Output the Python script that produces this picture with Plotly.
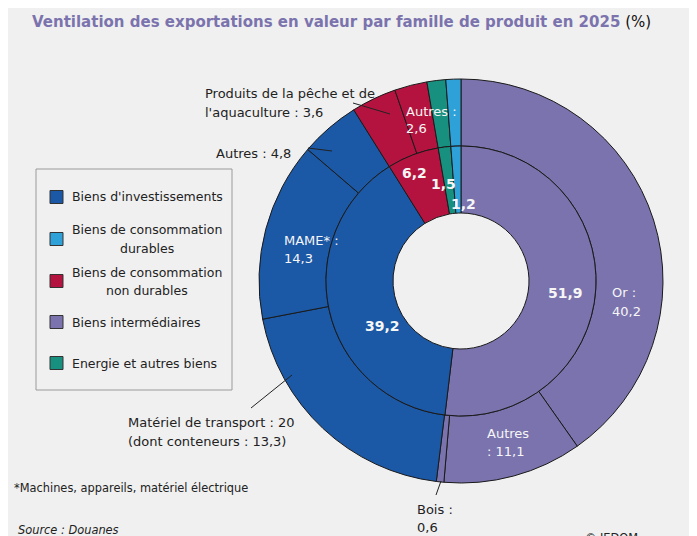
import plotly.graph_objects as go

# ---------------- data ----------------
families = ["Biens d'investissements", "Biens de consommation durables",
            "Biens de consommation non durables", "Biens intermédiaires",
            "Energie et autres biens"]
family_colors = ["#1b58a5", "#2ea1d9", "#b5133f", "#7b73ad", "#18907f"]

inner_labels = ["Biens intermédiaires", "Biens d'investissements",
                "Biens de consommation non durables", "Energie et autres biens",
                "Biens de consommation durables"]
inner_values = [51.9, 39.2, 6.2, 1.5, 1.2]

outer_names = ["Or", "Autres", "Bois", "Matériel de transport", "MAME*", "Autres",
               "Produits de la pêche et de l'aquaculture", "Autres",
               "Energie et autres biens", "Biens de consommation durables"]
outer_parents = ["Biens intermédiaires"] * 3 + ["Biens d'investissements"] * 3 + \
                ["Biens de consommation non durables"] * 2 + \
                ["Energie et autres biens", "Biens de consommation durables"]
outer_values = [40.2, 11.1, 0.6, 20, 14.3, 4.8, 3.6, 2.6, 1.5, 1.2]
conteneurs = 13.3

OFF = 8  # page body margin
W, H = 697 - OFF, 536 - OFF
BG = "#f0f0f0"
FONT = "DejaVu Sans"


def fr(v):
    return f"{v:g}".replace(".", ",")


def px(x):
    return (x - OFF) / W


def py(y):
    return 1 - (y - OFF) / H


color_of = dict(zip(families, family_colors))

fig = go.Figure()

# outer ring
cx, cy, R_out, R_in, R_hole = 461, 281, 202, 135, 68
fig.add_trace(go.Pie(
    labels=[f"{p} – {n}" if p != n else n for p, n in zip(outer_parents, outer_names)],
    values=outer_values,
    sort=False, direction="clockwise", rotation=0,
    hole=R_in / R_out,
    marker=dict(colors=[color_of[p] for p in outer_parents], line=dict(color="#1a1a1a", width=1)),
    textinfo="none", showlegend=False,
    domain=dict(x=[px(cx - R_out), px(cx + R_out)], y=[py(cy + R_out), py(cy - R_out)]),
))
# inner ring
fig.add_trace(go.Pie(
    labels=inner_labels, values=inner_values,
    sort=False, direction="clockwise", rotation=0,
    hole=R_hole / R_in,
    marker=dict(colors=[color_of[p] for p in inner_labels], line=dict(color="#1a1a1a", width=1)),
    textinfo="none", showlegend=False,
    domain=dict(x=[px(cx - R_in), px(cx + R_in)], y=[py(cy + R_in), py(cy - R_in)]),
))

ann = []
shapes = []


def text(x, y, s, size=13, color="#222", anchor="left", bold=False, italic=False):
    if bold:
        s = f"<b>{s}</b>"
    if italic:
        s = f"<i>{s}</i>"
    ann.append(dict(x=px(x), y=py(y), xref="paper", yref="paper", text=s, showarrow=False,
                    xanchor=anchor, yanchor="middle",
                    font=dict(family=FONT, size=size, color=color)))


def line(x0, y0, x1, y1):
    shapes.append(dict(type="line", xref="paper", yref="paper", x0=px(x0), y0=py(y0),
                       x1=px(x1), y1=py(y1), line=dict(color="#222", width=1)))


WHITE = "#f6f6f6"
# inner values
text(565, 293, fr(inner_values[0]), 14, WHITE, "center", bold=True)
text(382, 326, fr(inner_values[1]), 14, WHITE, "center", bold=True)
text(414, 173, fr(inner_values[2]), 14, WHITE, "center", bold=True)
text(444, 184, fr(inner_values[3]), 14, WHITE, "center", bold=True)
text(463, 204, fr(inner_values[4]), 14, WHITE, "center", bold=True)

# outer labels inside
text(610, 292, f"{outer_names[0]} :", 13, WHITE)
text(610, 311, fr(outer_values[0]), 13, WHITE)
text(485, 433, outer_names[1], 13, WHITE)
text(485, 451, f": {fr(outer_values[1])}", 13, WHITE)
text(282, 240, f"{outer_names[4].upper()} :", 13, WHITE)
text(282, 258, fr(outer_values[4]), 13, WHITE)
text(404, 111, f"{outer_names[7]} :", 13, WHITE)
text(404, 129, fr(outer_values[7]), 13, WHITE)

# outer labels outside
text(203, 93, "Produits de la pêche et de", 13)
text(203, 112, f"l'aquaculture : {fr(outer_values[6])}", 13)
line(353, 103, 390, 114)
text(214, 153, f"{outer_names[5]} : {fr(outer_values[5])}", 13)
line(308, 148, 332, 151)
text(126, 422, f"{outer_names[3]} : {fr(outer_values[3])}", 13)
text(126, 441, f"(dont conteneurs : {fr(conteneurs)})", 13)
line(251, 408, 292, 375)
text(415, 509, f"{outer_names[2]} :", 13)
text(415, 527, fr(outer_values[2]), 13)
line(436, 495, 441, 481)

# custom legend
shapes.append(dict(type="rect", xref="paper", yref="paper", x0=px(36), y0=py(169), x1=px(232), y1=py(390),
                   line=dict(color="#9a9a9a", width=1), fillcolor="rgba(0,0,0,0)"))
leg_y = [197, 239, 281, 322, 363]
leg_lines = [["Biens d'investissements"], ["Biens de consommation", "durables"],
             ["Biens de consommation", "non durables"], ["Biens intermédiaires"],
             ["Energie et autres biens"]]
for fam, yy, lines in zip(families, leg_y, leg_lines):
    shapes.append(dict(type="rect", xref="paper", yref="paper", x0=px(50), y0=py(yy + 6.5),
                       x1=px(63), y1=py(yy - 6.5), fillcolor=color_of[fam],
                       line=dict(color="#333", width=1)))
    if len(lines) == 1:
        text(70, yy, lines[0], 12.5)
    else:
        text(146.5, yy - 9, lines[0], 12.5, anchor="center")
        text(146.5, yy + 9, lines[1], 12.5, anchor="center")

# title and notes
ann.append(dict(x=px(30), y=py(22), xref="paper", yref="paper", showarrow=False, xanchor="left",
                yanchor="middle",
                text="<b>Ventilation des exportations en valeur par famille de produit en 2025</b>"
                     " <span style='color:#111'>(%)</span>",
                font=dict(family=FONT, size=15, color="#7b73ad")))
text(12, 488, "*Machines, appareils, matériel électrique", 11.4)
text(16, 530, "Source : Douanes", 11.4, italic=True)
text(583, 538, "© IEDOM", 11.4)

fig.update_layout(
    width=W, height=H, margin=dict(l=0, r=0, t=0, b=0),
    paper_bgcolor=BG, plot_bgcolor=BG,
    annotations=ann, shapes=shapes, showlegend=False,
)
fig.write_html("out.html")
